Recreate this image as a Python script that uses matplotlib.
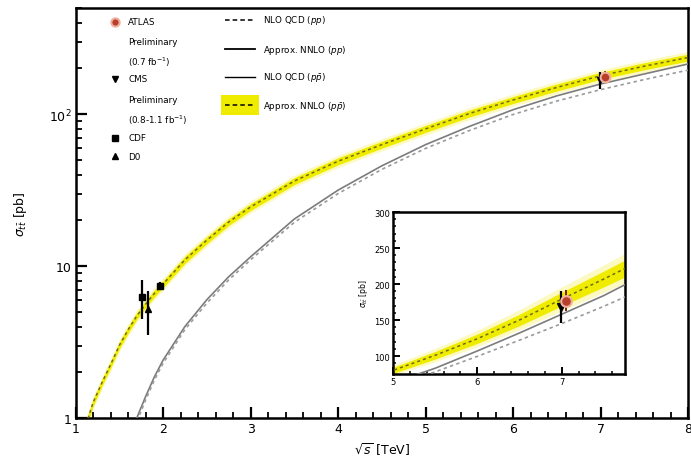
import matplotlib
matplotlib.use("Agg")
import matplotlib.pyplot as plt
from matplotlib.ticker import MultipleLocator, FixedLocator, NullFormatter

# sqrt(s) grid in TeV
sqrt_s = [1.1, 1.2, 1.3, 1.4, 1.5, 1.6, 1.7, 1.8, 1.9, 2.0, 2.25, 2.5, 2.75,
          3.0, 3.5, 4.0, 4.5, 5.0, 5.5, 6.0, 6.5, 7.0, 7.5, 8.0]

# Approx. NNLO (p pbar) band: centre, low, high [pb]
nnlo_ppbar = [0.83, 1.26, 1.70, 2.24, 3.0, 3.8, 4.7, 5.6, 6.6, 7.6, 11.0, 14.8, 19.5,
              24.5, 36.3, 49, 63, 80, 101, 124, 150, 179, 207, 236]
nnlo_ppbar_lo = [0.78, 1.19, 1.61, 2.12, 2.84, 3.6, 4.45, 5.3, 6.25, 7.2, 10.4, 14.0, 18.5,
                 23.2, 34.4, 46.4, 59.7, 75.8, 95.7, 117.5, 142, 169.5, 196, 223.5]
nnlo_ppbar_hi = [0.88, 1.33, 1.79, 2.36, 3.16, 4.0, 4.95, 5.9, 6.95, 8.0, 11.6, 15.6, 20.5,
                 25.8, 38.2, 51.6, 66.3, 84.2, 106.3, 130.5, 158, 188.5, 218, 248.5]

# pp curves [pb]
pp_grid = [1.65, 1.7, 1.8, 1.9, 2.0, 2.25, 2.5, 2.75, 3.0, 3.5, 4.0, 4.5, 5.0, 5.5,
           6.0, 6.5, 7.0, 7.5, 8.0]
nnlo_pp = [0.85, 1.0, 1.38, 1.86, 2.4, 4.0, 6.0, 8.5, 11.5, 20.4, 31.6, 45.7, 63, 83,
           107, 132, 158, 184, 214]
nlo_pp = [0.79, 0.94, 1.31, 1.77, 2.29, 3.82, 5.7, 8.1, 11.0, 19.4, 30.0, 43.3, 59.5, 78,
          99.5, 122, 145, 169, 195]

# measurements
atlas_x, atlas_y, atlas_err = [7.05], [177], [15]
cms_x, cms_y, cms_err = [6.99], [168], [22]
cdf_x, cdf_y, cdf_err = [1.76, 1.97], [6.3, 7.4], [1.8, 0.4]
d0_x, d0_y, d0_err = [1.83], [5.2], [1.7]

band_yellow = "#f0ec00"
glow_yellow = "#fbf8a8"
gray = "#7c7c7c"

fig = plt.figure(figsize=(6.91, 4.64), dpi=100)
ax = fig.add_axes([0.1093, 0.0970, 0.8864, 0.8836])


def draw_curves(a):
    a.fill_between(sqrt_s, [v * 0.96 for v in nnlo_ppbar_lo], [v * 1.04 for v in nnlo_ppbar_hi],
                   color=glow_yellow, lw=0, alpha=0.7, zorder=1)
    a.fill_between(sqrt_s, nnlo_ppbar_lo, nnlo_ppbar_hi, color=band_yellow, lw=0, zorder=2)
    a.plot(sqrt_s, nnlo_ppbar, color="#6f6c1c", lw=1.1, dashes=(2, 2), zorder=3)
    a.plot(pp_grid, nnlo_pp, color=gray, lw=1.2, zorder=3)
    a.plot(pp_grid, nlo_pp, color="#9a9a9a", lw=1.2, dashes=(2, 2), zorder=3)


def draw_points(a, ms=1.0):
    a.errorbar(cdf_x, cdf_y, yerr=cdf_err, fmt="s", color="black", ms=5 * ms, elinewidth=1.6,
               capsize=0, zorder=5)
    a.errorbar(d0_x, d0_y, yerr=d0_err, fmt="^", color="black", ms=4 * ms, elinewidth=1.6,
               capsize=0, zorder=5)
    a.errorbar(cms_x, cms_y, yerr=cms_err, fmt="v", color="black", ms=5 * ms, elinewidth=1.6,
               capsize=0, zorder=5)
    a.errorbar(atlas_x, atlas_y, yerr=atlas_err, fmt="o", color="#b8402a", mec="#f0b0a0",
               mew=1.5, ms=7 * ms, elinewidth=1.4, ecolor="#7a2010", capsize=0, zorder=6)


draw_curves(ax)
draw_points(ax)

ax.set_yscale("log")
ax.set_xlim(1, 8)
ax.set_ylim(1, 500)
ax.xaxis.set_major_locator(MultipleLocator(1))
ax.xaxis.set_minor_locator(MultipleLocator(0.2))
ax.yaxis.set_major_locator(FixedLocator([1, 10, 100]))
ax.set_yticklabels(["1", "10", r"$10^2$"])
ax.yaxis.set_minor_formatter(NullFormatter())
ax.tick_params(which="both", direction="in", top=False, right=False, labelsize=9, pad=3)
ax.tick_params(which="major", length=8, width=1.6)
ax.tick_params(which="minor", length=4, width=1.3)
for s in ax.spines.values():
    s.set_linewidth(1.8)
ax.set_xlabel(r"$\sqrt{s}$ [TeV]", fontsize=9, labelpad=4)
ax.set_ylabel(r"$\sigma_{t\bar{t}}$ [pb]", fontsize=9, labelpad=14)

# legend, drawn by hand (two columns)
fs = 6.3
lx, tx = 0.0645, 0.0857
ax.plot([lx], [0.966], "o", color="#b8402a", mec="#f0b0a0", mew=1.5, ms=6,
        transform=ax.transAxes)
ax.plot([lx], [0.827], "v", color="black", ms=4.5, transform=ax.transAxes)
ax.plot([lx], [0.683], "s", color="black", ms=4, transform=ax.transAxes)
ax.plot([lx], [0.639], "^", color="black", ms=4, transform=ax.transAxes)
left_texts = [(0.966, "ATLAS"), (0.9195, "Preliminary"), (0.871, r"(0.7 fb$^{-1}$)"),
              (0.827, "CMS"), (0.778, "Preliminary"), (0.729, r"(0.8-1.1 fb$^{-1}$)"),
              (0.683, "CDF"), (0.639, "D0")]
for y, t in left_texts:
    ax.text(tx, y, t, fontsize=fs, va="center", ha="left", transform=ax.transAxes)

x0, x1, rt = 0.244, 0.293, 0.306
ax.fill_between([x0 - 0.006, x1 + 0.006], 0.74, 0.787, color=band_yellow, lw=0,
                transform=ax.transAxes)
ax.plot([x0, x1], [0.971, 0.971], color="black", lw=1.1, dashes=(3, 2), transform=ax.transAxes)
ax.plot([x0, x1], [0.900, 0.900], color="black", lw=1.3, transform=ax.transAxes)
ax.plot([x0, x1], [0.832, 0.832], color="black", lw=1.0, transform=ax.transAxes)
ax.plot([x0, x1], [0.763, 0.763], color="black", lw=1.1, dashes=(3, 2), transform=ax.transAxes)
right_texts = [(0.971, r"NLO QCD ($pp$)"), (0.900, r"Approx. NNLO ($pp$)"),
               (0.832, r"NLO QCD ($p\bar{p}$)"), (0.763, r"Approx. NNLO ($p\bar{p}$)")]
for y, t in right_texts:
    ax.text(rt, y, t, fontsize=fs, va="center", ha="left", transform=ax.transAxes)

# inset
ins = fig.add_axes([0.5687, 0.1918, 0.3357, 0.3491])
draw_curves(ins)
draw_points(ins, ms=1.1)
ins.set_xlim(5, 7.75)
ins.set_ylim(75, 300)
ins.xaxis.set_major_locator(MultipleLocator(1))
ins.xaxis.set_minor_locator(MultipleLocator(0.2))
ins.yaxis.set_major_locator(MultipleLocator(50))
ins.yaxis.set_minor_locator(MultipleLocator(10))
ins.tick_params(which="both", direction="in", top=False, right=False, labelsize=6, pad=2)
ins.tick_params(which="major", length=5, width=1.4)
ins.tick_params(which="minor", length=2.5, width=1.1)
for s in ins.spines.values():
    s.set_linewidth(1.8)
ins.set_ylabel(r"$\sigma_{t\bar{t}}$ [pb]", fontsize=5.5, labelpad=3)

fig.savefig("out.png", dpi=100)
